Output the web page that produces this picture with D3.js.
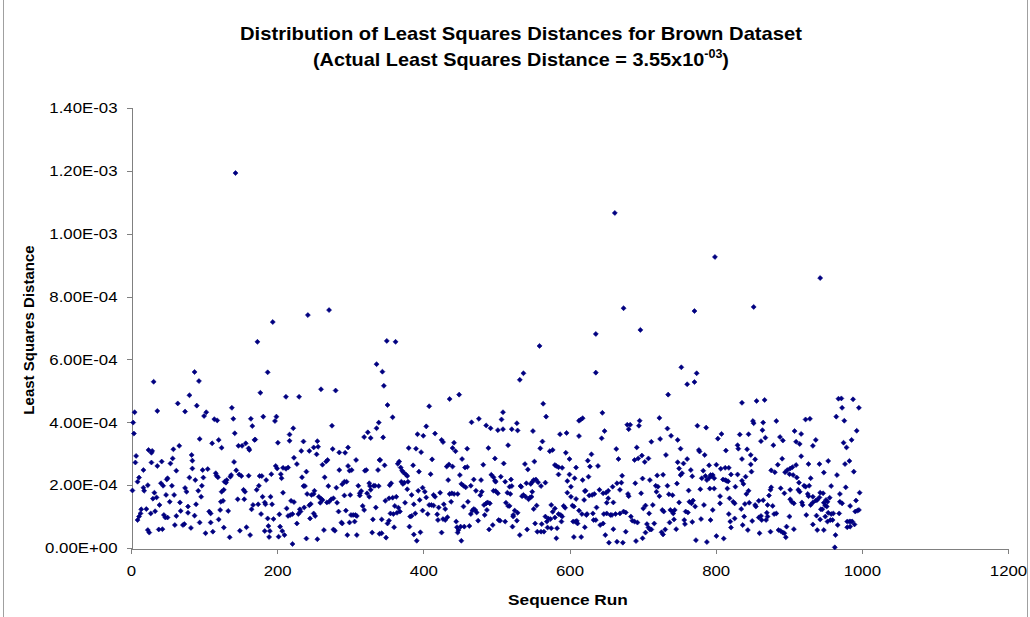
<!DOCTYPE html>
<html>
<head>
<meta charset="utf-8">
<script src="https://cdn.jsdelivr.net/npm/d3@7/dist/d3.min.js"></script>
<style>
  body { margin: 0; background: #fff; }
  svg { display: block; font-family: "Liberation Sans", Arial, sans-serif; }
  .axis path, .axis line { stroke: #808080; shape-rendering: crispEdges; }
  .axis text { fill: #000; font-size: 15px; }
</style>
</head>
<body>
<div id="chart"></div>
<script>
// Least squares distance per sequence run, values in units of 1e-4
// [run, distance], one block per stretch of runs
var runs1to169 = [[5,4.32],[3,3.99],[4,3.64],[7,2.93],[6,2.72],[9,2.11],[11,2.24],[2,1.83],[9,0.89],[11,1.00],[13,1.10],[14,1.23],[17,1.92],[17,2.48],[18,1.82],[21,1.24],[23,0.57],[25,0.49],[23,2.00],[24,3.12],[29,3.09],[28,3.03],[28,2.72],[31,5.29],[30,1.57],[32,1.76],[36,4.36],[35,1.61],[27,1.10],[33,1.17],[36,2.61],[38,0.59],[43,0.60],[39,1.37],[41,2.06],[42,2.75],[44,1.98],[45,1.05],[47,0.97],[50,0.97],[48,1.69],[50,2.22],[49,2.18],[53,1.47],[56,1.98],[54,2.69],[57,2.85],[59,1.69],[60,0.73],[62,2.46],[62,1.02],[64,4.60],[66,3.25],[58,3.14],[67,1.45],[68,1.18],[71,0.73],[73,0.76],[74,4.34],[74,1.91],[76,1.79],[78,1.32],[78,1.12],[80,4.86],[80,2.24],[82,0.64],[83,2.96],[84,2.78],[84,2.53],[87,5.60],[90,4.53],[93,5.31],[88,2.16],[89,1.39],[87,1.03],[92,1.82],[94,3.47],[94,0.81],[97,1.98],[96,1.63],[98,2.48],[99,2.24],[100,4.20],[102,0.47],[103,4.32],[105,2.51],[107,1.16],[109,0.81],[109,1.10],[111,3.33],[112,0.52],[114,4.10],[118,4.06],[116,2.38],[117,2.30],[120,3.44],[124,3.19],[119,2.25],[124,1.79],[123,1.47],[122,1.21],[120,0.91],[127,1.85],[126,1.50],[127,0.65],[130,2.08],[131,2.16],[128,2.11],[133,1.18],[135,0.34],[136,2.27],[137,2.32],[138,4.46],[140,4.11],[141,2.74],[142,3.65],[143,11.93],[144,2.47],[146,1.55],[147,3.25],[148,2.34],[149,0.55],[151,2.29],[152,3.25],[154,1.85],[156,1.79],[157,3.33],[155,1.55],[158,0.66],[161,3.17],[162,3.12],[163,0.41],[161,2.30],[164,4.11],[166,3.88],[167,1.37],[165,1.23],[169,3.44]];

var runs170to340 = [[173,6.56],[187,5.59],[177,4.94],[212,4.81],[230,4.81],[260,5.05],[280,5.01],[336,5.85],[194,7.19],[242,7.41],[271,7.57],[181,4.18],[199,4.18],[197,4.04],[170,3.45],[222,3.81],[217,3.61],[217,3.41],[201,3.35],[236,3.39],[233,3.09],[244,3.09],[250,3.20],[255,3.40],[256,3.22],[254,2.98],[275,3.89],[276,3.15],[285,3.04],[293,3.03],[297,3.20],[319,3.53],[324,3.68],[328,3.50],[336,3.81],[339,3.99],[223,2.87],[227,2.67],[269,2.80],[267,2.75],[262,2.65],[308,2.80],[198,2.61],[200,2.53],[208,2.55],[212,2.52],[215,2.56],[205,2.35],[206,2.22],[192,2.35],[185,2.16],[176,2.29],[179,2.29],[172,1.85],[175,1.98],[180,1.63],[191,1.63],[183,1.45],[184,1.39],[193,1.39],[174,1.39],[178,1.08],[187,0.94],[183,0.54],[190,0.54],[188,0.70],[189,0.35],[195,0.92],[203,1.07],[204,0.68],[207,0.54],[210,0.41],[202,0.36],[208,1.76],[213,1.26],[215,1.02],[218,1.05],[221,1.08],[219,1.50],[223,1.46],[221,0.13],[227,0.78],[229,1.08],[231,1.23],[232,1.16],[234,2.25],[236,1.97],[238,1.97],[240,2.43],[237,1.29],[240,0.30],[241,1.72],[247,1.69],[250,1.72],[244,1.36],[246,1.40],[245,0.94],[251,1.82],[250,1.10],[252,1.02],[255,0.28],[257,1.63],[260,1.57],[259,1.44],[262,1.53],[265,2.25],[264,0.57],[268,1.45],[271,1.47],[274,1.55],[277,1.58],[270,1.97],[281,1.92],[277,0.59],[279,0.55],[282,1.44],[284,1.16],[285,2.48],[289,2.03],[292,2.11],[295,2.11],[288,0.81],[289,0.78],[292,1.67],[294,1.19],[296,0.41],[297,2.61],[299,2.46],[300,1.69],[301,1.05],[304,1.05],[299,0.81],[306,0.84],[307,1.05],[309,1.02],[302,2.48],[309,0.41],[311,1.98],[313,1.67],[313,1.74],[315,1.81],[317,1.34],[319,1.21],[320,2.46],[322,2.48],[323,1.74],[326,2.06],[327,1.97],[328,1.85],[332,1.98],[334,1.98],[326,1.63],[330,0.49],[331,0.91],[335,1.29],[339,1.97],[338,2.48],[340,2.80],[340,0.45]];

var runs341to505 = [[350,6.59],[362,6.56],[344,5.61],[346,5.16],[351,4.55],[358,4.16],[345,3.52],[408,4.51],[436,4.74],[449,4.88],[404,3.87],[392,3.62],[400,3.57],[416,3.64],[425,3.44],[427,3.37],[442,3.35],[440,3.18],[444,3.08],[460,3.16],[466,4.00],[476,4.11],[486,3.90],[492,3.81],[502,3.75],[489,3.18],[380,3.18],[390,3.16],[397,3.05],[412,2.82],[453,2.83],[498,2.85],[482,2.65],[341,2.80],[347,2.63],[365,2.68],[367,2.75],[369,2.56],[371,2.46],[373,2.40],[376,2.34],[378,2.29],[386,2.63],[394,2.43],[432,2.59],[435,2.66],[440,2.59],[457,2.56],[460,2.58],[450,2.32],[410,2.35],[469,2.18],[479,2.16],[493,2.33],[496,2.25],[498,2.14],[499,2.11],[434,2.16],[354,2.00],[356,2.06],[370,2.11],[372,2.04],[374,2.08],[379,2.11],[378,1.87],[384,1.69],[393,1.82],[399,1.92],[402,1.79],[404,1.61],[414,1.69],[416,1.63],[423,1.76],[436,1.72],[439,1.74],[442,1.72],[447,1.72],[452,2.04],[455,1.98],[458,1.93],[465,1.98],[472,1.82],[478,1.68],[480,1.79],[496,1.82],[499,1.81],[502,1.74],[348,1.50],[353,1.58],[358,1.60],[363,1.63],[361,1.34],[366,1.28],[355,1.10],[359,1.08],[364,1.12],[368,1.16],[375,1.44],[382,1.00],[384,1.02],[389,1.10],[387,1.39],[395,1.53],[399,1.19],[406,1.08],[408,1.37],[411,1.37],[414,1.35],[419,1.07],[420,0.89],[421,1.29],[428,1.39],[430,1.24],[427,0.92],[430,0.89],[433,0.98],[438,1.47],[445,0.84],[446,0.66],[447,0.49],[448,0.57],[451,0.68],[456,0.68],[463,0.70],[452,0.23],[455,1.32],[461,1.47],[465,1.08],[467,1.19],[469,1.24],[471,1.21],[473,1.13],[475,0.87],[483,1.37],[486,1.42],[488,1.45],[491,1.42],[484,1.05],[487,1.21],[490,0.59],[495,0.73],[503,0.89],[343,0.91],[351,0.78],[353,0.87],[343,0.47],[349,0.33],[360,0.66],[381,0.68],[387,0.43],[391,0.23],[396,0.50],[425,0.49]];

var runs506to671 = [[559,6.43],[532,5.35],[537,5.56],[636,5.58],[564,4.59],[568,4.18],[509,4.32],[507,4.09],[528,3.97],[521,3.78],[529,3.74],[509,3.78],[550,3.72],[516,3.27],[613,4.05],[615,4.08],[618,4.13],[613,3.56],[645,4.30],[648,3.72],[644,3.49],[587,3.62],[596,3.66],[563,3.39],[560,3.17],[573,3.08],[577,3.12],[595,3.03],[664,3.15],[667,2.83],[630,2.98],[600,2.83],[625,2.78],[510,2.69],[539,2.67],[543,2.50],[552,2.75],[580,2.64],[582,2.61],[585,2.57],[590,2.55],[585,2.34],[609,2.56],[628,2.59],[639,2.61],[600,2.34],[506,2.27],[520,2.18],[521,1.97],[518,1.95],[512,2.11],[533,1.97],[534,1.95],[541,2.06],[547,2.04],[549,2.10],[551,2.16],[554,2.18],[557,2.09],[561,1.97],[567,2.08],[597,2.13],[607,2.22],[618,2.16],[626,2.27],[602,1.95],[597,1.76],[602,1.63],[609,1.56],[622,1.82],[627,1.67],[631,1.69],[634,1.72],[641,1.85],[646,1.74],[650,1.76],[653,1.82],[659,1.95],[665,2.06],[671,2.08],[669,1.85],[653,1.58],[651,1.44],[660,1.45],[515,1.76],[519,1.72],[537,1.69],[535,1.65],[540,1.63],[544,1.55],[546,1.61],[548,1.63],[549,1.79],[513,1.44],[516,1.34],[518,1.34],[525,1.19],[523,1.05],[529,1.12],[523,1.00],[555,1.35],[551,1.24],[505,0.87],[512,0.84],[528,0.87],[522,0.68],[532,0.41],[542,0.59],[553,0.78],[556,0.52],[561,0.52],[565,0.52],[562,0.76],[567,1.00],[569,0.84],[571,0.94],[574,0.92],[570,0.65],[575,0.63],[583,0.63],[582,0.31],[575,1.37],[580,1.26],[577,1.15],[580,0.97],[585,1.08],[588,1.05],[590,1.00],[589,0.84],[592,1.34],[594,1.28],[604,1.35],[606,1.32],[605,0.84],[608,0.84],[611,0.78],[610,0.86],[613,1.19],[606,0.35],[616,0.35],[617,1.08],[620,1.53],[621,1.81],[623,1.05],[624,1.08],[621,0.66],[632,1.10],[633,0.89],[636,0.89],[642,0.73],[646,0.78],[649,0.41],[637,1.29],[647,1.08],[651,1.10],[656,1.05],[658,1.05],[663,1.08],[654,0.17],[665,0.20],[660,0.60],[669,1.10],[636,6.81],[662,10.66]];

var runs672to838 = [[674,7.63],[697,6.94],[771,7.54],[799,9.26],[753,5.75],[774,5.56],[761,5.21],[771,5.28],[735,4.88],[836,4.62],[723,4.14],[696,4.05],[695,3.89],[679,3.92],[683,3.92],[681,3.78],[734,3.80],[739,3.57],[775,3.89],[787,3.83],[724,3.47],[712,3.38],[748,3.44],[803,3.48],[808,3.63],[833,3.61],[692,3.20],[752,3.16],[777,3.12],[778,3.07],[814,3.10],[830,3.27],[831,3.16],[732,2.96],[785,2.96],[689,2.80],[694,2.85],[699,2.94],[708,2.85],[703,2.74],[836,2.83],[748,2.73],[756,2.69],[761,2.83],[750,2.53],[752,2.32],[754,2.38],[766,2.48],[768,2.28],[783,2.46],[791,2.63],[801,2.65],[786,2.29],[793,2.32],[807,2.52],[813,2.55],[818,2.55],[821,2.34],[830,2.34],[672,2.30],[690,2.06],[700,2.21],[710,2.16],[720,2.31],[728,2.33],[718,1.98],[721,1.95],[734,1.98],[747,2.05],[781,2.22],[788,2.16],[791,2.23],[794,2.29],[796,2.32],[798,2.22],[792,1.89],[798,1.89],[810,2.18],[813,2.16],[815,2.14],[817,2.12],[816,1.89],[827,1.95],[836,2.14],[838,2.04],[681,1.65],[680,1.72],[698,1.74],[719,1.79],[723,1.65],[736,1.71],[741,1.68],[763,1.83],[779,1.87],[806,1.65],[806,1.42],[819,1.58],[824,1.47],[826,1.42],[674,1.16],[677,1.13],[701,1.26],[704,1.35],[714,1.37],[709,1.10],[727,1.21],[729,1.16],[738,1.21],[741,1.16],[742,1.10],[744,1.21],[750,1.45],[759,1.16],[762,1.13],[764,1.47],[767,1.42],[772,1.32],[769,1.51],[784,1.37],[796,1.21],[835,1.24],[684,1.00],[686,0.87],[689,0.84],[693,0.81],[706,0.76],[708,0.65],[710,0.59],[712,0.59],[716,0.78],[726,0.50],[728,0.43],[731,0.59],[737,0.81],[743,0.91],[746,0.60],[757,0.89],[758,0.76],[768,0.83],[780,0.92],[793,0.89],[818,1.08],[820,0.84],[826,0.94],[821,0.65],[837,0.73],[677,0.52],[673,0.17],[691,0.22],[700,0.31],[773,0.25],[788,0.19],[801,0.38],[811,0.30],[704,0.49]];

var runs839to1000 = [[852,7.67],[943,8.59],[856,4.68],[867,4.71],[968,4.75],[972,4.76],[988,4.73],[996,4.46],[973,4.46],[965,4.18],[976,4.05],[851,4.04],[852,3.97],[865,3.99],[883,4.04],[923,4.09],[929,4.11],[864,3.75],[845,3.62],[993,3.73],[888,3.53],[892,3.42],[868,3.51],[862,3.40],[908,3.72],[917,3.63],[910,3.38],[915,3.31],[879,3.27],[937,3.44],[933,3.25],[975,3.35],[979,3.20],[986,3.44],[843,3.14],[848,2.96],[854,2.82],[891,2.84],[917,2.92],[954,2.77],[983,2.77],[848,2.66],[885,2.65],[927,2.67],[942,2.67],[977,2.67],[849,2.43],[841,2.27],[876,2.47],[881,2.41],[895,2.41],[898,2.48],[902,2.53],[905,2.57],[910,2.64],[901,2.35],[906,2.32],[911,2.24],[914,2.08],[930,2.22],[948,2.40],[966,2.32],[989,2.43],[921,1.98],[923,1.95],[928,1.98],[958,1.97],[978,1.93],[842,1.72],[845,1.82],[876,1.93],[875,1.85],[873,1.67],[889,1.90],[894,1.74],[902,1.85],[913,1.85],[915,1.79],[926,1.72],[927,1.65],[933,1.63],[943,1.76],[947,1.74],[970,1.72],[997,1.76],[840,1.40],[846,1.44],[854,1.37],[859,1.50],[865,1.52],[855,1.32],[871,1.37],[878,1.34],[902,1.55],[904,1.47],[907,1.42],[918,1.45],[919,1.37],[930,1.37],[933,1.45],[937,1.51],[939,1.53],[942,1.61],[948,1.44],[951,1.53],[953,1.47],[956,1.60],[950,1.35],[970,1.47],[973,1.42],[984,1.34],[992,1.51],[839,1.00],[862,1.02],[870,1.12],[871,1.00],[869,0.89],[880,1.08],[883,1.10],[901,1.00],[924,1.05],[938,1.03],[944,1.23],[946,1.23],[952,1.32],[954,1.12],[958,1.08],[961,1.10],[969,1.10],[943,0.91],[950,1.00],[991,1.16],[994,1.19],[996,1.21],[850,0.86],[859,0.97],[863,0.89],[844,0.57],[860,0.47],[875,0.52],[886,0.57],[889,0.54],[892,0.49],[894,0.47],[896,0.34],[897,0.68],[907,0.60],[933,0.75],[939,0.57],[948,0.57],[953,0.84],[957,0.89],[960,0.89],[964,0.41],[967,0.73],[963,0.02],[980,0.84],[983,0.84],[985,0.84],[987,0.84],[980,0.66],[984,0.68],[990,0.75]];

// axis ticks
var xTicks = [0, 200, 400, 600, 800, 1000, 1200];
var yTicks = [0, 2e-4, 4e-4, 6e-4, 8e-4, 10e-4, 12e-4, 14e-4];
var yTickLabels = ["0.00E+00", "2.00E-04", "4.00E-04", "6.00E-04", "8.00E-04", "1.00E-03", "1.20E-03", "1.40E-03"];

var points = [].concat(runs1to169, runs170to340, runs341to505, runs506to671, runs672to838, runs839to1000);

var W = 1030, H = 617;
var plot = {left: 131, right: 1008, top: 108, bottom: 548};

// the original picture is a bit wider than its fonts, stretch texts to match
function widen(sel, k) {
    sel.each(function () {
        var len = this.getComputedTextLength();
        d3.select(this)
            .attr("textLength", len * k)
            .attr("lengthAdjust", "spacingAndGlyphs");
    });
}

var svg = d3.select("#chart").append("svg")
    .attr("width", W)
    .attr("height", H);

// chart frame edges
svg.append("line").attr("x1", 3.5).attr("x2", 3.5).attr("y1", 0).attr("y2", H)
    .attr("stroke", "#a0a0a0");
svg.append("line").attr("x1", 1027.5).attr("x2", 1027.5).attr("y1", 0).attr("y2", H)
    .attr("stroke", "#a0a0a0");

var x = d3.scaleLinear().domain([0, 1200]).range([plot.left, plot.right]);
var y = d3.scaleLinear().domain([0, 14e-4]).range([plot.bottom, plot.top]);

// y axis
var yAxis = svg.append("g")
    .attr("class", "axis")
    .attr("transform", "translate(" + (plot.left + 0.5) + ",0)")
    .call(d3.axisLeft(y).tickValues(yTicks).tickSizeOuter(0).tickSize(5).tickPadding(9)
        .tickFormat(function (d, i) { return yTickLabels[i]; }));
widen(yAxis.selectAll("text"), 1.12);

// x axis
var xAxis = svg.append("g")
    .attr("class", "axis")
    .attr("transform", "translate(0," + (plot.bottom + 0.5) + ")")
    .call(d3.axisBottom(x).tickValues(xTicks).tickSizeOuter(0).tickSize(5).tickPadding(12)
        .tickFormat(d3.format("d")));
widen(xAxis.selectAll("text"), 1.12);

svg.selectAll(".axis .domain").attr("stroke", "#808080");

// points
var marker = d3.symbol().type(d3.symbolDiamond2).size(16);
svg.append("g")
    .selectAll("path")
    .data(points)
    .enter()
    .append("path")
    .attr("d", marker)
    .attr("transform", function (d) { return "translate(" + x(d[0]) + "," + y(d[1] * 1e-4) + ")"; })
    .attr("fill", "#000080")
    .attr("stroke", "#000080")
    .attr("stroke-width", 0.6);

// titles
svg.append("text")
    .attr("x", 521).attr("y", 40)
    .attr("text-anchor", "middle")
    .attr("textLength", 562).attr("lengthAdjust", "spacingAndGlyphs")
    .style("font-weight", "bold").style("font-size", "19px")
    .text("Distribution of Least Squares Distances for Brown Dataset");

var sub = svg.append("text")
    .attr("x", 521).attr("y", 66)
    .attr("text-anchor", "middle")
    .style("font-weight", "bold").style("font-size", "19px");
sub.append("tspan").text("(Actual Least Squares Distance = 3.55x10");
sub.append("tspan").attr("dy", -8).style("font-size", "12px").text("-03");
sub.append("tspan").attr("dy", 8).text(")");
widen(sub, 1.045);

var xTitle = svg.append("text")
    .attr("x", 568).attr("y", 605)
    .attr("text-anchor", "middle")
    .style("font-weight", "bold").style("font-size", "15px")
    .text("Sequence Run");
widen(xTitle, 1.15);

svg.append("text")
    .attr("transform", "translate(34,330)rotate(-90)")
    .attr("text-anchor", "middle")
    .style("font-weight", "bold").style("font-size", "15px")
    .text("Least Squares Distance");
</script>
</body>
</html>
